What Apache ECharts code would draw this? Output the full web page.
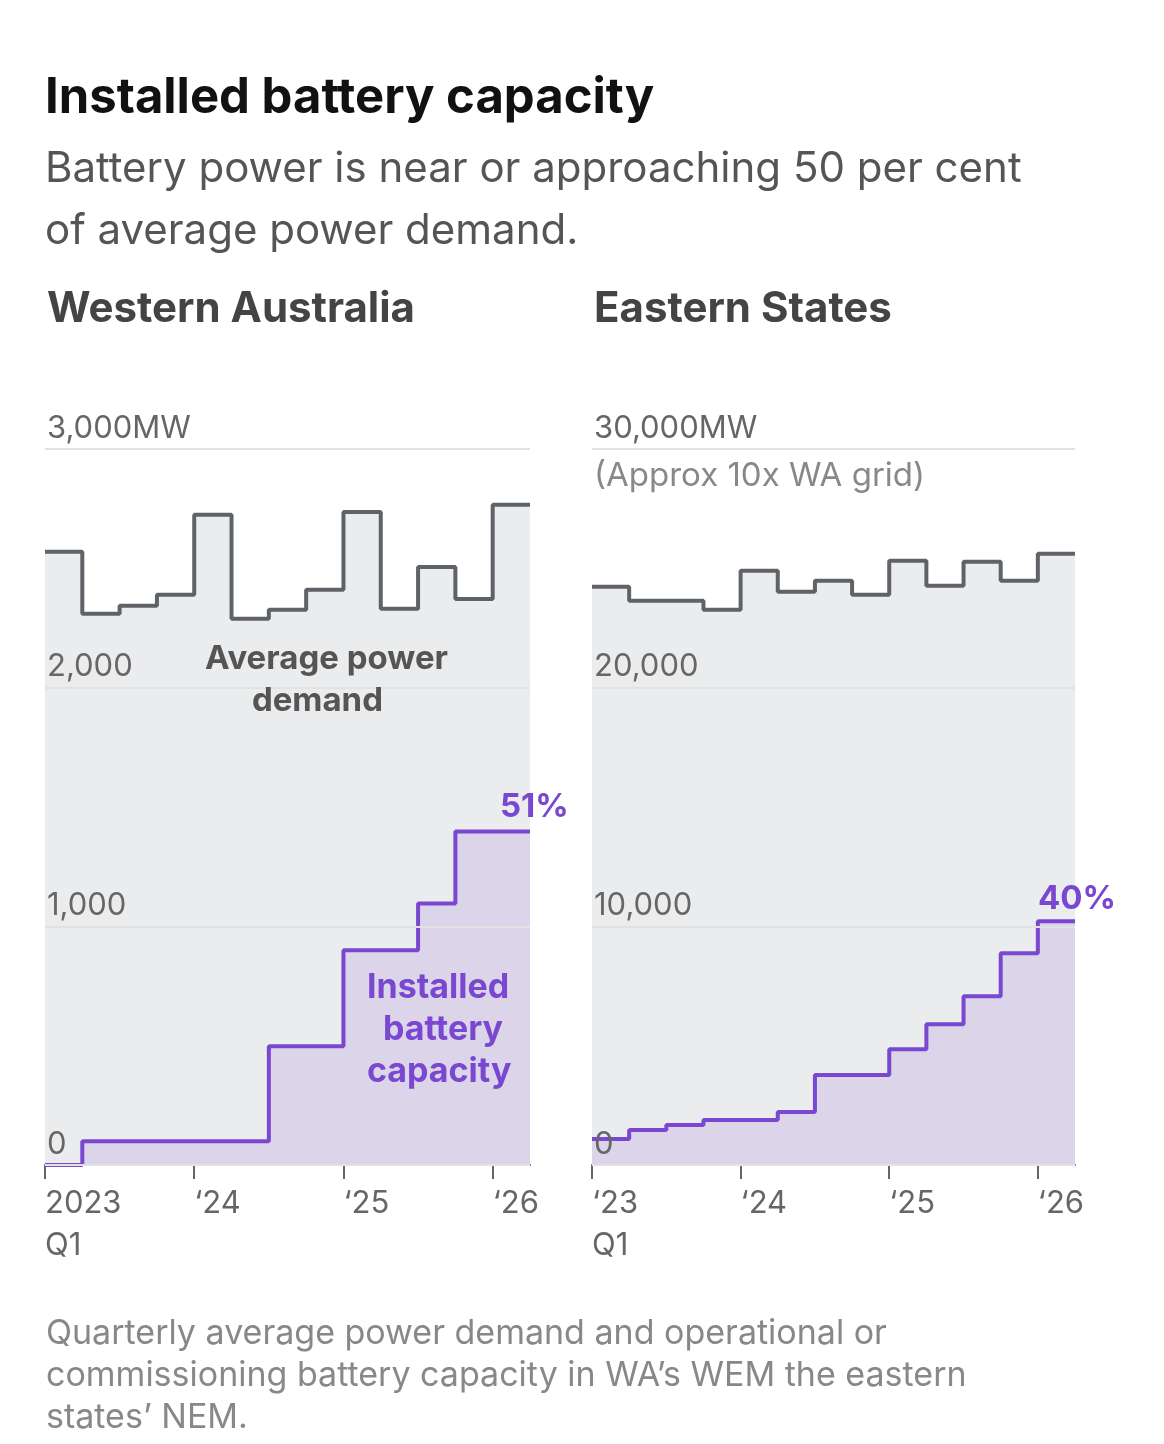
<!DOCTYPE html>
<html><head><meta charset="utf-8">
<script src="https://cdn.jsdelivr.net/npm/echarts@6/dist/echarts.min.js"></script>
<style>html,body{margin:0;background:#fff}#c{width:1164px;height:1444px}</style>
</head><body><div id="c"></div>
<script>
// quarters Q1 2023 .. Q1 2026
var quarters = ['2023 Q1','Q2','Q3','Q4','2024 Q1','Q2','Q3','Q4','2025 Q1','Q2','Q3','Q4','2026 Q1'];
var waDemand = [2569,2310,2343,2389,2724,2289,2326,2410,2736,2331,2506,2372,2766];
var waBattery = [0,100,100,100,100,100,498,498,900,900,1096,1397,1397];
var esDemand = [24226,23640,23640,23264,24895,24017,24477,23891,25314,24268,25272,24477,25607];
var esBattery = [1088,1464,1674,1883,1883,2218,3766,3766,4854,5900,7071,8870,10209];
var waYLabels = {0:'0',1000:'1,000',2000:'2,000',3000:'3,000MW'};
var esYLabels = {0:'0',10000:'10,000',20000:'20,000',30000:'30,000MW'};
var waXLabels = {0:'2023\nQ1',4:'‘24',8:'‘25',12:'‘26'};
var esXLabels = {0:'‘23\nQ1',4:'‘24',8:'‘25',12:'‘26'};

var FONT = 'Inter, "Noto Sans", sans-serif';
var GREY = '#5f6368', PURPLE = '#7a47d1';

function pts(arr){
  var d = arr.map(function(v,i){return [i,v];});
  d.push([arr.length, arr[arr.length-1]]);
  return d;
}
function xAxis(idx, labels){
  return {gridIndex:idx,type:'value',min:0,max:13,interval:1,
    axisLine:{show:true,lineStyle:{color:'#666',width:2}},
    axisTick:{show:true,length:14,lineStyle:{color:'#666',width:2},interval:0,
      customValues:[0,4,8,12]},
    axisLabel:{customValues:[0,4,8,12],color:'#666',fontSize:31,fontFamily:FONT,align:'left',margin:18,
      lineHeight:42,formatter:function(v){return labels[v]||'';}},
    splitLine:{show:false}};
}
function yAxis(idx, max, labels){
  return {gridIndex:idx,type:'value',min:0,max:max,interval:max/3,
    axisLine:{show:false},axisTick:{show:false},
    splitLine:{show:true,lineStyle:{color:'#e2e2e2',width:2}},
    axisLabel:{inside:true,verticalAlign:'bottom',margin:2,padding:[0,0,5,0],color:'#666',fontSize:31,fontFamily:FONT,
      formatter:function(v){return labels[v]||'';}},
    z:5};
}
function demand(idx,data){
  return {type:'line',xAxisIndex:idx,yAxisIndex:idx,step:'end',data:pts(data),symbol:'none',
    lineStyle:{color:GREY,width:4},areaStyle:{color:'#ebecee',opacity:1},z:2};
}
function battery(idx,data){
  return {type:'line',xAxisIndex:idx,yAxisIndex:idx,step:'end',data:pts(data),symbol:'none',
    lineStyle:{color:PURPLE,width:4},areaStyle:{color:'#dcd4e9',opacity:1},z:3};
}
function txt(x,y,s,size,color,weight,align){
  return {type:'text',left:x,top:y,z:100,style:{text:s,fontSize:size,fill:color,fontWeight:weight||'normal',
    fontFamily:FONT,textAlign:align||'left',lineHeight:size*1.3}};
}

var chart = echarts.init(document.getElementById('c'));
chart.setOption({
  animation:false,
  grid:[{left:45,top:449,width:485,bottom:279},{left:592,top:449,width:483,bottom:279}],
  xAxis:[xAxis(0,waXLabels),xAxis(1,esXLabels)],
  yAxis:[yAxis(0,3000,waYLabels),yAxis(1,30000,esYLabels)],
  series:[demand(0,waDemand),battery(0,waBattery),demand(1,esDemand),battery(1,esBattery)],
  graphic:[
    txt(45,66,'Installed battery capacity',49,'#111','bold'),
    {type:'text',left:45,top:138,z:100,style:{text:'Battery power is near or approaching 50 per cent\nof average power demand.',
      fontSize:42,fill:'#555',fontFamily:FONT,lineHeight:62}},
    txt(47,282,'Western Australia',42,'#444','bold'),
    txt(594,282,'Eastern States',42,'#444','bold'),
    txt(594,455,'(Approx 10x WA grid)',33,'#888'),
    {type:'text',left:205,top:638,z:100,style:{text:'Average power\n      demand',fontSize:33,fill:'#555',fontWeight:'bold',fontFamily:FONT,lineHeight:42}},
    {type:'text',left:367,top:967,z:100,style:{text:'Installed\n  battery\ncapacity',fontSize:34,fill:PURPLE,fontWeight:'bold',fontFamily:FONT,lineHeight:42}},
    txt(500,786,'51%',33,PURPLE,'bold'),
    txt(1038,878,'40%',33,PURPLE,'bold'),
    {type:'text',left:46,top:1313,z:100,style:{text:'Quarterly average power demand and operational or\ncommissioning battery capacity in WA’s WEM the eastern\nstates’ NEM.',
      fontSize:34,fill:'#888',fontFamily:FONT,lineHeight:42}}
  ]
});
</script></body></html>
